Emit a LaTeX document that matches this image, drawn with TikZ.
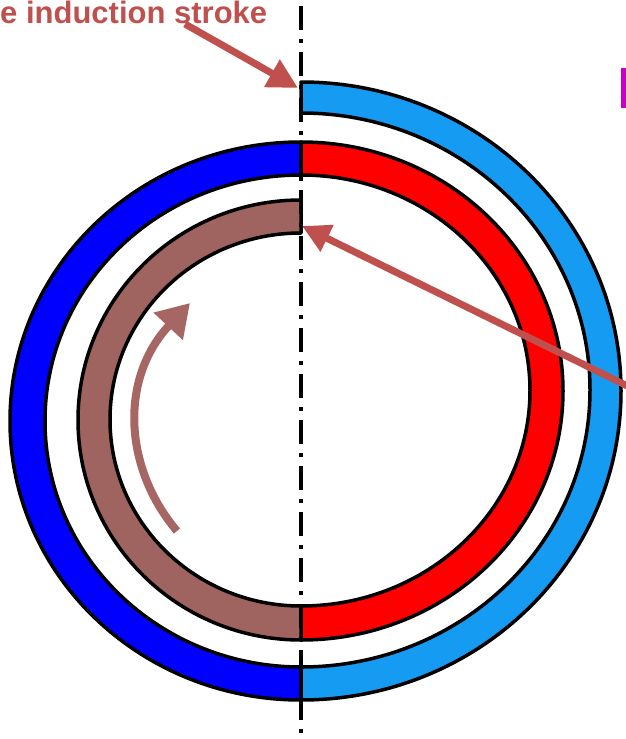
\documentclass[tikz,border=0pt]{standalone}
\usepackage{fontspec}
\setmainfont{Liberation Sans}
\usetikzlibrary{arrows.meta}
\definecolor{ltblue}{RGB}{22,155,242}
\definecolor{dkblue}{RGB}{0,0,255}
\definecolor{ringred}{RGB}{255,0,0}
\definecolor{ringbrown}{RGB}{160,100,96}
\definecolor{arrowred}{RGB}{192,80,77}
\definecolor{curvebrown}{RGB}{165,102,100}
\definecolor{magbar}{RGB}{200,0,200}
\tikzset{
  band/.style={draw=black, line width=3.5pt, line join=round},
  axisline/.style={line width=3.5pt, dash pattern=on 24pt off 9pt on 4pt off 9pt},
  redarrow/.style={draw=arrowred, line width=7pt, -{Triangle[width=30pt,length=30pt]}},
  curvearrow/.style={draw=curvebrown, line width=8pt, -{Triangle[width=38pt,length=32pt]}},
  lbl/.style={inner sep=0pt, text=arrowred, font=\fontsize{31}{31}\selectfont\bfseries}
}
\begin{document}
\begin{tikzpicture}[x=1pt,y=1pt]
\useasboundingbox (0,0) rectangle (625,-739);
% blue, left outer half
\filldraw[band, fill=dkblue] (301,-142) arc[start angle=90, end angle=270, x radius=291, y radius=279]
  -- (301,-667) arc[start angle=270, end angle=90, x radius=256, y radius=246] -- cycle;
% light blue, right outer half
\filldraw[band, fill=ltblue] (301,-82) arc[start angle=90, end angle=-90, x radius=320, y radius=309]
  -- (301,-667) arc[start angle=-90, end angle=90, x radius=289, y radius=277] -- cycle;
% red, right inner half
\filldraw[band, fill=ringred] (301,-142) arc[start angle=90, end angle=-90, x radius=262, y radius=249]
  -- (301,-606) arc[start angle=-90, end angle=90, x radius=229, y radius=215.5] -- cycle;
% brown, left inner half
\filldraw[band, fill=ringbrown] (301,-200) arc[start angle=90, end angle=270, x radius=223, y radius=220]
  -- (301,-606) arc[start angle=270, end angle=90, x radius=191, y radius=186.5] -- cycle;
% axis
\coordinate (axtop) at (301,-6);
\coordinate (axbot) at (301,-745);
\draw[axisline] (axtop) -- (axbot);
% label and arrows
\node[lbl, anchor=base west] (label) at (0,-23) {e induction stroke};
\coordinate (a1s) at (185,-24);
\coordinate (a1e) at (298,-88);
\draw[redarrow] (a1s) -- (a1e);
\coordinate (a2s) at (660,-402);
\coordinate (a2e) at (302,-226);
\draw[redarrow, -{Triangle[width=28pt,length=28pt]}] (a2s) -- (a2e);
\coordinate (c1s) at (177,-531);
\coordinate (c1e) at (190,-303);
\draw[curvearrow] (c1s) .. controls (125,-470) and (118,-380) .. (c1e);
% cut-off magenta letter at right edge
\fill[magbar] (621,-68) rectangle (630,-108);
\end{tikzpicture}
\end{document}
